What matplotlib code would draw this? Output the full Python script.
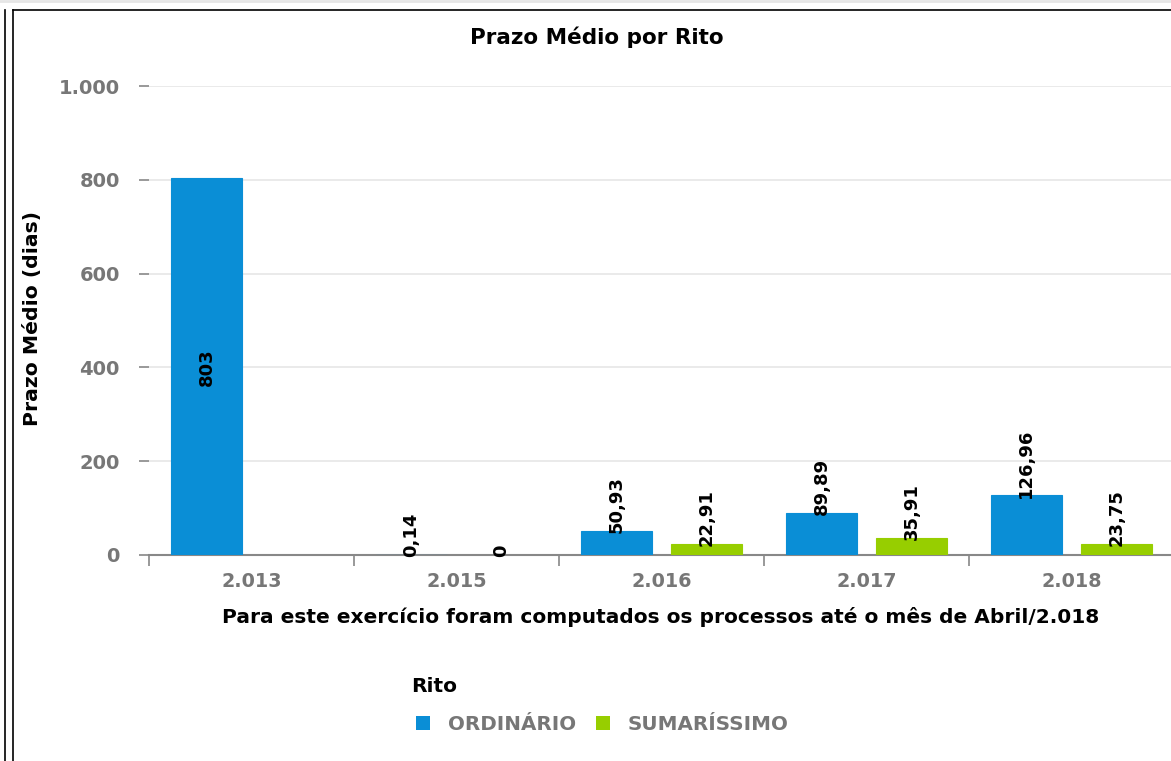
import numpy as np
import matplotlib
matplotlib.use('Agg')
import matplotlib.pyplot as plt
from matplotlib.lines import Line2D
from matplotlib.patches import Patch
from matplotlib.ticker import FuncFormatter, MultipleLocator

# --- dados ---
anos = ['2.013', '2.015', '2.016', '2.017', '2.018']
ordinario = [803, 0.14, 50.93, 89.89, 126.96]
sumarissimo = [np.nan, 0, 22.91, 35.91, 23.75]
series_nomes = ['ORDINÁRIO', 'SUMARÍSSIMO']
cores = ['#0A8ED6', '#97CE00']

W, H = 1171, 761
fig = plt.figure(figsize=(W / 100, H / 100), dpi=100)
plt.rcParams['font.family'] = ['DejaVu Sans']


def fx(px):
    return px / W


def fy(py):
    return 1 - py / H


# eixo: area de plotagem (pixels da referencia)
ax = fig.add_axes([fx(149), fy(555), fx(1174) - fx(149), fy(86) - fy(555)])

x = np.arange(len(anos))
larg = 0.35
desl = 0.22
b1 = ax.bar(x - desl, ordinario, larg, color=cores[0], edgecolor=cores[0],
            linewidth=0.8, zorder=3)
b2 = ax.bar(x + desl, sumarissimo, larg, color=cores[1], edgecolor=cores[1],
            linewidth=0.8, zorder=3)
# barra de valor zero nao aparece
b2[1].set_linewidth(0)


def fmt_valor(v):
    if np.isnan(v):
        return ''
    return f'{v:g}'.replace('.', ',')


# rotulos dos valores (verticais)
lab_font = dict(rotation=90, fontsize=13, fontweight='bold', color='black')
for barras, vals in [(b1, ordinario), (b2, sumarissimo)]:
    for bar, v in zip(barras, vals):
        if np.isnan(v):
            continue
        if v > 400:
            ax.text(bar.get_x() + bar.get_width() / 2, v / 2, fmt_valor(v),
                    ha='center', va='center', zorder=4, **lab_font)
        else:
            ax.annotate(fmt_valor(v), (bar.get_x() + bar.get_width() / 2, v),
                        xytext=(0, -1.5), textcoords='offset points',
                        ha='center', va='bottom', zorder=4, **lab_font)

ax.set_xlim(-0.5, len(anos) - 0.5)
ax.set_ylim(0, 1000)
ax.yaxis.set_major_locator(MultipleLocator(200))
ax.yaxis.set_major_formatter(FuncFormatter(lambda v, p: f'{int(v):,}'.replace(',', '.')))
ax.grid(axis='y', color='#e6e6e6', linewidth=1.2, zorder=0)

ax.set_xticks(x)
ax.set_xticklabels(anos)
ax.set_xticks(np.arange(len(anos)) - 0.5, minor=True)
ax.tick_params(axis='x', which='major', length=0, pad=12,
               labelsize=13.8, labelcolor='#777777')
ax.tick_params(axis='x', which='minor', length=8, width=1.2, color='#888888')
ax.tick_params(axis='y', length=7, width=1.2, color='#888888', pad=14,
               labelsize=14, labelcolor='#777777')
for t in ax.get_xticklabels() + ax.get_yticklabels():
    t.set_fontweight('bold')

for s in ['top', 'right', 'left']:
    ax.spines[s].set_visible(False)
ax.spines['bottom'].set_color('#888888')
ax.spines['bottom'].set_linewidth(1.5)

# titulos
fig.text(fx(597), fy(37), 'Prazo Médio por Rito', ha='center', va='center',
         fontsize=15.5, fontweight='bold')
fig.text(fx(33), fy(318), 'Prazo Médio (dias)', ha='center', va='center',
         rotation=90, fontsize=14.7, fontweight='bold')
fig.text(fx(661), fy(617), 'Para este exercício foram computados os processos até o mês de Abril/2.018',
         ha='center', va='center', fontsize=14.5, fontweight='bold')

# legenda
fig.text(fx(411), fy(686), 'Rito', ha='left', va='center',
         fontsize=14.5, fontweight='bold')
handles = [Patch(facecolor=c, edgecolor='none') for c in cores]
leg = fig.legend(handles, series_nomes, loc='center left',
                 bbox_to_anchor=(fx(416), fy(724)), ncol=2, frameon=False,
                 prop=dict(size=14.3, weight='bold'), handlelength=0.7,
                 handleheight=0.7, handletextpad=0.9, columnspacing=1.0,
                 borderpad=0, borderaxespad=0)
for t in leg.get_texts():
    t.set_color('#777777')

# bordas da pagina
fig.add_artist(Line2D([0, 1], [fy(1), fy(1)], transform=fig.transFigure,
                      color='#e6e6e6', linewidth=2))
fig.add_artist(Line2D([fx(5), fx(5)], [fy(10), 0], transform=fig.transFigure,
                      color='black', linewidth=1.2))
fig.add_artist(Line2D([fx(13), fx(13)], [fy(10), 0], transform=fig.transFigure,
                      color='black', linewidth=1.2))
fig.add_artist(Line2D([fx(13), 1], [fy(10), fy(10)], transform=fig.transFigure,
                      color='black', linewidth=1.2))

fig.savefig('out.png', dpi=100)
